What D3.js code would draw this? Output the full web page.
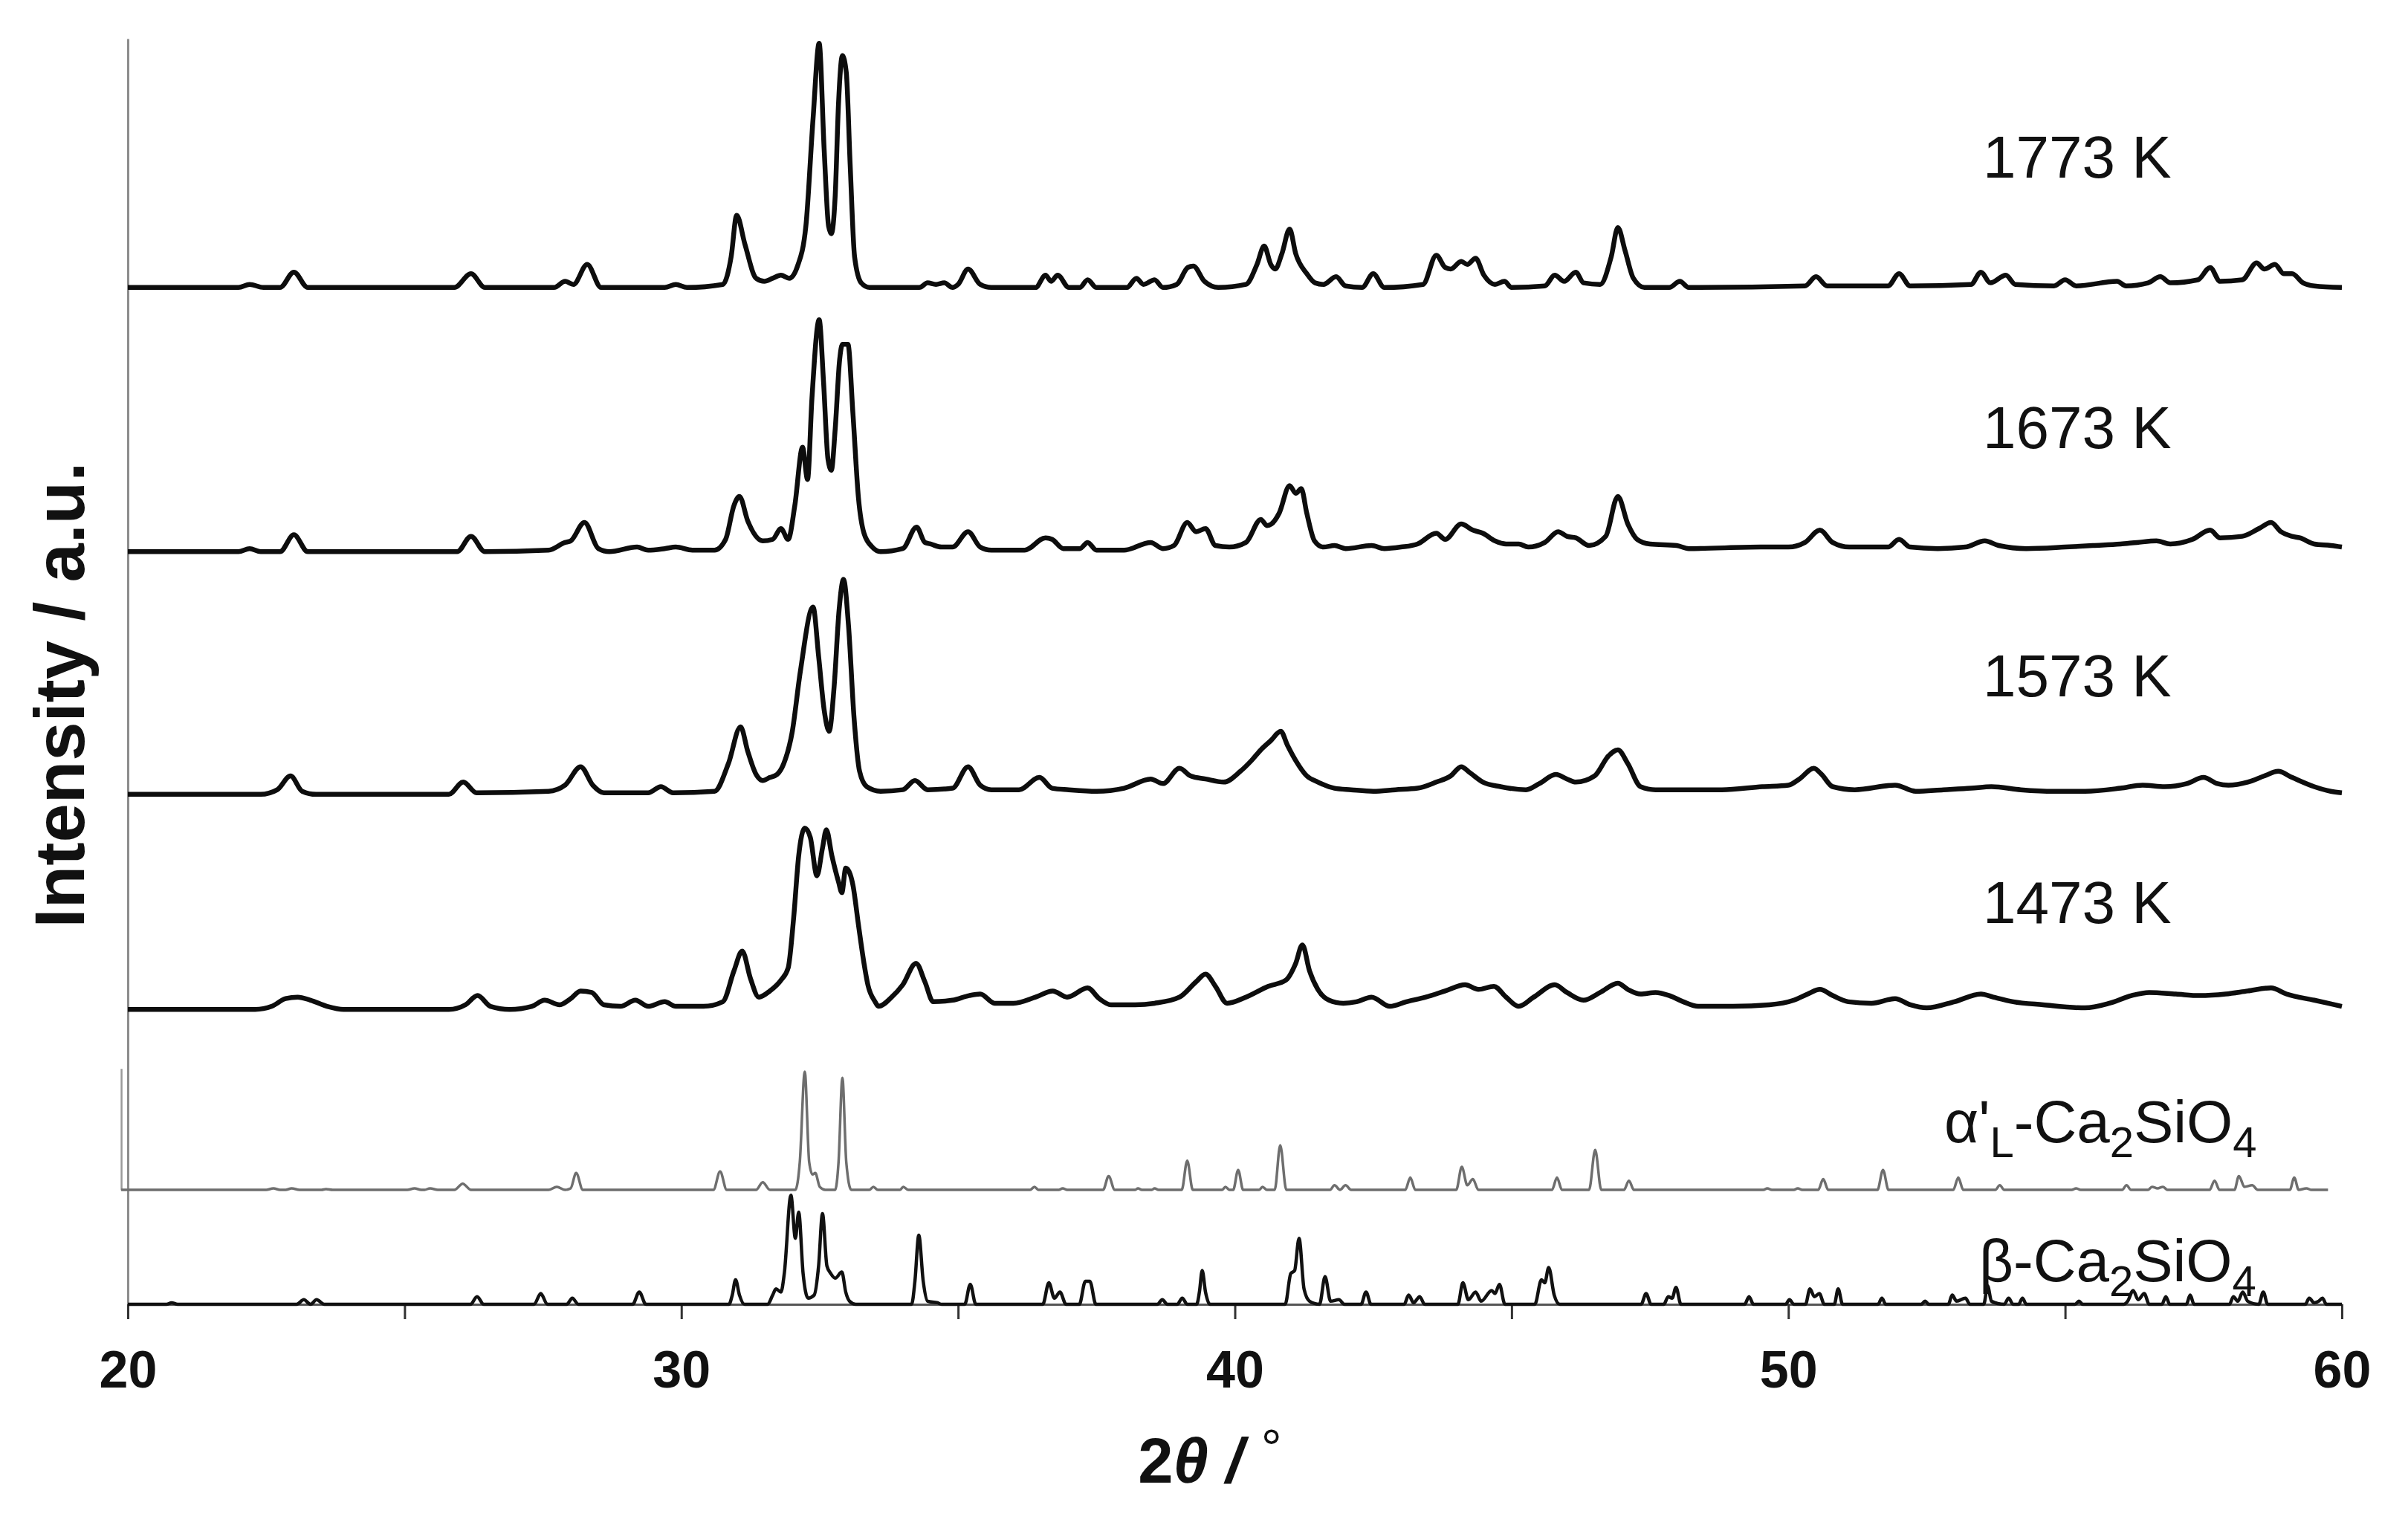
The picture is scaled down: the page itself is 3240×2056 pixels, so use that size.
<!DOCTYPE html>
<html>
<head>
<meta charset="utf-8">
<script src="https://cdn.jsdelivr.net/npm/d3@7"></script>
<style>
  html, body { margin: 0; padding: 0; background: #fff; }
  svg { display: block; font-family: "Liberation Sans", Arial, sans-serif; }
</style>
</head>
<body>
<svg id="xrd" width="3240" height="2056"></svg>
<script>
// sample names and vertical stacking offsets (intensity units)
const sampleNames = ["1773 K", "1673 K", "1573 K", "1473 K"];
const sampleOffsets = [662, 490, 332, 192];
const alphaOffset = 74.5;
const betaOffset = 0;
const xTicks = [20, 25, 30, 35, 40, 45, 50, 55, 60];

// [2theta, intensity]
const xrd1773 = [
  [20,0],[22.0,0],[22.2,2],[22.45,0],[22.75,0],[23.0,10],[23.25,0],
  [25.9,0],[26.2,9],[26.45,0],[27.7,0],[27.9,4],[28.05,2],[28.3,15],[28.55,0],
  [29.7,0],[29.9,2],[30.1,0],[30.75,2],[30.9,20],[31.0,47],[31.15,28],[31.35,6],[31.5,4],[31.65,6],[31.8,8],[31.95,6],
  [32.1,14],[32.25,40],[32.38,110],[32.49,159],[32.58,90],[32.66,40],[32.71,35],[32.78,60],[32.84,120],[32.91,151],[32.98,140],[33.05,80],[33.13,20],[33.25,3],[33.4,0],
  [34.3,0],[34.45,3],[34.6,2],[34.75,3],[34.9,0],[35.0,2],[35.18,12],[35.4,2],[35.6,0],
  [36.4,0],[36.58,8],[36.68,4],[36.8,8],[37.0,0],[37.2,0],[37.34,5],[37.5,0],
  [38.05,0],[38.22,6],[38.35,2],[38.55,5],[38.7,0],[38.95,2],[39.15,13],[39.25,14],[39.45,4],[39.7,0],
  [40.2,2],[40.4,15],[40.53,27],[40.65,15],[40.73,12],[40.85,22],[40.99,38],[41.1,22],[41.3,9],[41.45,3],[41.6,2],[41.83,7],[42.0,1],
  [42.3,0],[42.5,9],[42.7,0],[43.4,2],[43.64,21],[43.8,13],[43.9,12],[44.09,17],[44.2,15],[44.35,19],[44.5,8],[44.7,2],[44.87,4],[45.0,0],
  [45.6,1],[45.78,8],[45.95,4],[46.16,10],[46.3,3],[46.6,2],[46.8,20],[46.92,39],[47.05,24],[47.2,6],[47.4,0],
  [47.85,0],[48.04,4],[48.2,0],[50.3,1],[50.5,7],[50.7,1],[51.8,1],[52.0,9],[52.2,1],
  [53.3,2],[53.48,10],[53.65,3],[53.93,8],[54.1,2],[54.8,1],[55.0,5],[55.2,1],
  [55.94,4],[56.1,1],[56.5,3],[56.72,7],[56.9,3],[57.4,5],[57.62,13],[57.8,4],[58.2,5],[58.46,16],[58.6,12],[58.79,15],[58.95,9],[59.1,9],[59.3,3],[59.5,1],[60,0]
];

const xrd1673 = [
  [20,0],[22.0,0],[22.2,2],[22.4,0],[22.75,0],[23.0,11],[23.25,0],
  [25.95,0],[26.2,10],[26.45,0],[27.6,1],[27.9,6],[28.0,7],[28.25,19],[28.5,2],[28.7,0],
  [29.2,3],[29.4,1],[29.7,2],[29.9,3],[30.2,1],[30.6,1],
  [30.8,8],[30.95,30],[31.05,36],[31.2,20],[31.47,7],[31.65,8],[31.8,15],[31.93,8],
  [32.05,30],[32.19,68],[32.28,47],[32.36,100],[32.49,151],[32.57,110],[32.65,60],[32.71,53],[32.78,80],[32.86,125],[32.91,135],[33.01,135],[33.1,90],[33.2,35],[33.3,12],[33.45,3],[33.6,0],
  [34.0,2],[34.25,16],[34.4,6],[34.5,5],[34.7,3],[34.9,3],[35.18,13],[35.4,3],[35.6,1],
  [36.2,1],[36.58,9],[36.7,8],[36.9,2],[37.2,2],[37.34,6],[37.5,1],
  [38.0,1],[38.48,6],[38.7,2],[38.9,4],[39.14,19],[39.3,13],[39.47,15],[39.65,4],[39.9,3],
  [40.2,6],[40.47,21],[40.58,17],[40.66,18],[40.8,25],[40.99,43],[41.1,38],[41.2,41],[41.3,25],[41.44,7],[41.6,3],[41.8,4],[42.0,2],
  [42.47,4],[42.7,2],[43.0,3],[43.3,5],[43.64,12],[43.8,8],[44.09,18],[44.3,14],[44.48,12],[44.7,7],[44.9,5],[45.13,5],[45.3,3],
  [45.6,6],[45.84,13],[46.0,10],[46.16,9],[46.4,4],[46.7,10],[46.92,36],[47.1,18],[47.27,8],[47.5,5],[47.98,4],[48.2,2],
  [49.5,3],[50.0,3],[50.3,6],[50.57,14],[50.8,6],[51.1,3],
  [51.8,3],[52.0,8],[52.2,3],[52.7,2],[53.2,3],[53.55,7],[53.8,4],[54.3,2],[55.0,3],[55.5,4],[56.0,5],[56.3,6],[56.65,7],[56.9,5],
  [57.3,8],[57.62,14],[57.8,9],[58.2,10],[58.5,15],[58.72,19],[58.9,13],[59.1,10],[59.24,9],[59.5,5],[59.8,4],[60,3]
];

const xrd1573 = [
  [20,0],[22.4,0],[22.7,3],[22.94,12],[23.15,2],[23.4,0],
  [25.8,0],[26.06,8],[26.3,1],[27.6,2],[27.9,6],[28.18,18],[28.4,6],[28.6,1],
  [29.4,1],[29.63,5],[29.85,1],
  [30.6,2],[30.85,20],[31.07,44],[31.2,28],[31.35,13],[31.47,9],[31.6,11],[31.73,13],[31.85,20],
  [32.0,40],[32.15,80],[32.38,122],[32.48,90],[32.58,55],[32.67,41],[32.76,70],[32.85,120],[32.93,140],[33.02,110],[33.12,50],[33.22,15],[33.35,5],[33.6,2],
  [34.0,3],[34.22,9],[34.45,3],[34.9,4],[35.18,18],[35.4,6],[35.6,3],
  [36.1,3],[36.47,11],[36.7,4],[37.0,3],[37.5,2],[38.0,4],[38.48,10],[38.7,7],[39.0,17],[39.2,12],[39.47,10],[39.8,8],
  [40.1,15],[40.3,22],[40.47,29],[40.65,35],[40.83,41],[40.95,32],[41.1,22],[41.3,12],[41.5,8],[41.8,4],[42.1,3],[42.5,2],[42.9,3],[43.3,4],
  [43.64,8],[43.9,12],[44.09,18],[44.25,14],[44.48,8],[44.8,5],[45.26,3],[45.5,7],[45.8,13],[46.0,10],[46.16,8],
  [46.5,12],[46.75,25],[46.92,29],[47.1,20],[47.33,5],[47.6,3],[48.2,3],[48.8,3],[49.53,5],[50.0,6],[50.2,10],[50.46,17],[50.6,13],[50.8,5],[51.2,3],
  [51.93,6],[52.3,2],[52.8,3],[53.3,4],[53.67,5],[54.2,3],[54.8,2],[55.36,2],[56.0,4],[56.4,6],[56.8,5],[57.2,7],[57.5,11],[57.75,7],[57.95,6],
  [58.3,8],[58.6,12],[58.85,15],[59.1,11],[59.5,5],[59.8,2],[60,1]
];

const xrd1473 = [
  [20,0],[22.3,0],[22.6,2],[22.85,7],[23.07,8],[23.3,6],[23.6,2],[23.9,0],
  [25.8,0],[26.1,3],[26.32,9],[26.55,2],[26.9,0],
  [27.3,2],[27.53,6],[27.8,3],[28.0,7],[28.18,12],[28.38,11],[28.6,3],[28.9,2],[29.17,6],[29.4,2],[29.7,5],[29.9,2],[30.4,2],
  [30.75,5],[30.95,25],[31.1,38],[31.25,20],[31.4,8],[31.6,12],[31.8,19],[31.93,27],[32.03,60],[32.12,100],[32.23,118],[32.33,112],[32.45,87],[32.55,105],[32.62,117],[32.72,100],[32.84,83],[32.9,76],[32.97,92],[33.05,88],[33.1,81],[33.2,55],[33.3,30],[33.37,16],[33.5,5],[33.56,2],
  [33.8,8],[34.0,16],[34.24,30],[34.4,18],[34.55,5],[34.9,6],[35.2,9],[35.4,10],[35.66,4],
  [36.0,4],[36.4,8],[36.71,12],[36.97,8],[37.34,14],[37.55,7],[37.76,3],[38.2,3],[38.55,4],[39.0,8],[39.3,18],[39.47,23],[39.65,15],[39.86,4],
  [40.2,8],[40.6,15],[40.92,19],[41.1,30],[41.22,42],[41.35,25],[41.5,13],[41.7,6],[41.96,4],[42.2,5],[42.47,8],[42.8,2],
  [43.1,5],[43.45,8],[43.8,12],[44.16,16],[44.4,13],[44.68,15],[44.9,8],[45.13,2],[45.4,8],[45.78,16],[46.0,11],[46.3,6],[46.6,11],[46.92,17],[47.1,13],[47.33,10],[47.6,11],[47.85,9],[48.1,5],[48.37,2],
  [49.0,2],[49.66,3],[50.1,6],[50.35,10],[50.57,13],[50.8,9],[51.08,5],[51.5,4],[51.93,7],[52.2,3],[52.5,1],
  [53.0,5],[53.48,10],[53.7,8],[54.06,5],[54.6,3],[55.36,1],[55.8,4],[56.2,9],[56.52,11],[57.0,10],[57.43,9],[57.9,10],[58.3,12],[58.72,14],[59.0,10],[59.5,6],[60,2]
];

// reference pattern alpha'L-Ca2SiO4 (grey)
const xrdAlpha = [
  [19.88,0],[22.5,0],[22.63,1],[22.75,0],[22.85,0],[22.96,1],[23.1,0],[23.5,0],[23.58,0.5],[23.7,0],
  [25.05,0],[25.18,1],[25.3,0],[25.36,0],[25.46,1],[25.6,0],[25.9,0],[26.05,4],[26.2,0],
  [27.6,0],[27.75,2],[27.9,0],[28.0,1],[28.1,11],[28.22,0],[30.58,0],[30.7,12],[30.82,0],[31.35,0],[31.47,5],[31.6,0],
  [32.06,0],[32.14,18],[32.23,77],[32.31,18],[32.37,10],[32.42,11],[32.5,2],[32.6,0],
  [32.78,0],[32.84,18],[32.91,73],[32.98,18],[33.07,0],
  [33.4,0],[33.47,2],[33.55,0],[33.95,0],[34.01,2],[34.1,0],[36.3,0],[36.38,2],[36.45,0],[36.82,0],[36.89,1],[36.97,0],
  [37.62,0],[37.72,9],[37.83,0],[38.2,0],[38.25,1],[38.32,0],[38.5,0],[38.55,1],[38.62,0],
  [39.04,0],[39.14,19],[39.24,0],[39.77,0],[39.83,2],[39.9,0],[39.97,0],[40.06,13],[40.15,0],
  [40.44,0],[40.5,2],[40.58,0],[40.72,0],[40.82,29],[40.93,0],
  [41.72,0],[41.8,3],[41.9,0],[42.0,3],[42.1,0],[43.08,0],[43.17,8],[43.26,0],
  [44.0,0],[44.1,15],[44.2,3],[44.3,7],[44.4,0],[45.73,0],[45.82,8],[45.91,0],
  [46.4,0],[46.51,26],[46.62,0],[47.03,0],[47.12,6],[47.21,0],
  [49.55,0],[49.62,1],[49.7,0],[50.1,0],[50.17,1],[50.25,0],[50.54,0],[50.63,7],[50.72,0],
  [51.61,0],[51.71,13],[51.81,0],[52.98,0],[53.07,8],[53.16,0],[53.74,0],[53.82,3],[53.9,0],
  [55.12,0],[55.2,1],[55.28,0],[56.03,0],[56.11,3],[56.19,0],[56.5,0],[56.57,2],[56.67,1],[56.77,2],[56.85,0],
  [57.61,0],[57.7,6],[57.79,0],[58.06,0],[58.14,9],[58.24,2],[58.38,3],[58.48,0],
  [59.06,0],[59.14,8],[59.22,0],[59.36,1],[59.45,0],[59.75,0]
];

// reference pattern beta-Ca2SiO4 (black)
const xrdBeta = [
  [20,0],[20.7,0],[20.79,1],[20.9,0],[23.05,0],[23.18,3],[23.3,0],[23.41,3],[23.55,0],
  [26.19,0],[26.31,5],[26.43,0],[27.34,0],[27.46,7],[27.58,0],[27.93,0],[28.03,4],[28.14,0],
  [29.12,0],[29.24,8],[29.36,0],[30.86,0],[30.92,6],[30.98,16],[31.05,6],[31.14,0],
  [31.56,0],[31.65,6],[31.71,10],[31.8,8],[31.86,20],[31.98,71],[32.06,43],[32.12,60],[32.2,20],[32.29,4],[32.4,6],[32.48,25],[32.55,59],[32.63,25],[32.7,20],[32.78,17],[32.9,21],[32.97,8],[33.04,2],[33.15,0],
  [34.16,0],[34.22,15],[34.29,45],[34.37,15],[34.45,2],[34.63,1],[34.7,0],[35.12,0],[35.22,13],[35.32,0],
  [36.53,0],[36.64,14],[36.74,4],[36.84,8],[36.95,0],[37.19,0],[37.3,15],[37.38,15],[37.49,0],
  [38.6,0],[38.69,3],[38.78,0],[38.96,0],[39.05,4],[39.14,0],[39.31,0],[39.36,8],[39.41,22],[39.47,8],[39.55,0],
  [40.91,0],[41.01,20],[41.08,22],[41.16,43],[41.25,10],[41.35,2],[41.53,0],[41.63,18],[41.73,2],[41.88,3],[41.98,0],
  [42.28,0],[42.37,8],[42.46,0],[43.06,0],[43.14,6],[43.23,1],[43.34,5],[43.43,0],
  [44.03,0],[44.12,14],[44.22,3],[44.35,8],[44.45,2],[44.64,9],[44.7,7],[44.78,13],[44.88,0],
  [45.42,0],[45.54,16],[45.6,14],[45.67,24],[45.77,6],[45.87,0],
  [47.34,0],[47.43,7],[47.52,0],[47.75,0],[47.83,5],[47.9,4],[47.97,11],[48.06,0],
  [49.21,0],[49.29,5],[49.37,0],[49.95,0],[50.02,3],[50.1,0],[50.31,0],[50.39,10],[50.47,5],[50.56,7],[50.65,0],[50.83,0],[50.9,10],[50.98,0],
  [51.62,0],[51.69,4],[51.76,0],[52.4,0],[52.47,2],[52.54,0],
  [52.89,0],[52.96,6],[53.04,2],[53.2,4],[53.28,0],[53.53,0],[53.6,12],[53.67,2],[53.9,0],[53.98,4],[54.06,0],[54.16,0],[54.23,4],[54.3,0],
  [55.18,0],[55.25,2],[55.32,0],[56.06,0],[56.13,2],[56.23,9],[56.32,3],[56.43,7],[56.52,0],
  [56.75,0],[56.82,5],[56.89,0],[57.19,0],[57.26,6],[57.33,0],
  [57.97,0],[58.04,5],[58.12,2],[58.21,8],[58.3,2],[58.5,0],[58.58,8],[58.66,0],
  [59.34,0],[59.41,4],[59.5,1],[59.58,2],[59.65,4],[59.72,0],[60,0]
];

const samples = [xrd1773, xrd1673, xrd1573, xrd1473];

let svg = d3.select("#xrd");
svg.append("rect").attr("width", 3240).attr("height", 2056).attr("fill", "#fff");

let x = d3.scaleLinear().domain([20, 60]).range([172, 3151]);
let y = d3.scaleLinear().domain([0, 824]).range([1755, 52]);

function lineAt(offset) {
  return d3.line()
    .x((d) => x(d[0]))
    .y((d) => y(d[1] + offset))
    .curve(d3.curveMonotoneX);
}

// left axis (no ticks)
let yAxis = svg.append("g")
  .attr("transform", "translate(" + x(20) + ",0)")
  .call(d3.axisLeft(y).tickValues([]).tickSizeOuter(0));
yAxis.select(".domain").attr("stroke", "#8c8c8c").attr("stroke-width", 3);

// small axis of the alpha' reference pattern
let yAlpha = d3.scaleLinear().domain([0, 79]).range([y(alphaOffset), y(alphaOffset + 79)]);
let alphaAxis = svg.append("g")
  .attr("transform", "translate(" + x(19.88) + ",0)")
  .call(d3.axisLeft(yAlpha).tickValues([]).tickSizeOuter(0));
alphaAxis.select(".domain").attr("stroke", "#9a9a9a").attr("stroke-width", 2.5);

// x axis
let xAxis = svg.append("g")
  .attr("transform", "translate(0," + y(0) + ")")
  .call(d3.axisBottom(x)
    .tickValues(xTicks)
    .tickSize(20)
    .tickSizeOuter(0)
    .tickPadding(42)
    .tickFormat((d) => (d % 10 === 0 ? d : "")));
xAxis.select(".domain").attr("stroke", "#555").attr("stroke-width", 3);
xAxis.selectAll(".tick line").attr("stroke", "#333").attr("stroke-width", 3);
xAxis.selectAll(".tick text")
  .attr("fill", "#111")
  .attr("font-size", 70)
  .attr("font-weight", "bold")
  .attr("font-family", "'Liberation Sans', Arial, sans-serif");

// reference patterns
svg.append("path")
  .datum(xrdAlpha)
  .attr("fill", "none")
  .attr("stroke", "#6e6e6e")
  .attr("stroke-width", 3.5)
  .attr("stroke-linejoin", "round")
  .attr("d", lineAt(alphaOffset));

svg.append("path")
  .datum(xrdBeta)
  .attr("fill", "none")
  .attr("stroke", "#111")
  .attr("stroke-width", 4.5)
  .attr("stroke-linejoin", "round")
  .attr("d", lineAt(betaOffset));

// measured patterns
samples.forEach(function (data, i) {
  svg.append("path")
    .datum(data)
    .attr("fill", "none")
    .attr("stroke", "#0d0d0d")
    .attr("stroke-width", 6.5)
    .attr("stroke-linejoin", "round")
    .attr("d", lineAt(sampleOffsets[i]));
});

// sample labels
let labelY = [239, 603, 937, 1242];
sampleNames.forEach(function (name, i) {
  svg.append("text")
    .attr("x", 2668)
    .attr("y", labelY[i])
    .attr("font-size", 80)
    .attr("fill", "#111")
    .text(name);
});

// alpha'L-Ca2SiO4 label
let alphaLabel = svg.append("text")
  .attr("x", 2616)
  .attr("y", 1537)
  .attr("font-size", 80)
  .attr("fill", "#111");
alphaLabel.append("tspan").text("α'");
alphaLabel.append("tspan").attr("font-size", 58).attr("dy", 20).text("L");
alphaLabel.append("tspan").attr("dy", -20).text("-Ca");
alphaLabel.append("tspan").attr("font-size", 58).attr("dy", 20).text("2");
alphaLabel.append("tspan").attr("dy", -20).text("SiO");
alphaLabel.append("tspan").attr("font-size", 58).attr("dy", 20).text("4");

// beta-Ca2SiO4 label
let betaLabel = svg.append("text")
  .attr("x", 2663)
  .attr("y", 1724)
  .attr("font-size", 80)
  .attr("fill", "#111");
betaLabel.append("tspan").text("β-Ca");
betaLabel.append("tspan").attr("font-size", 58).attr("dy", 20).text("2");
betaLabel.append("tspan").attr("dy", -20).text("SiO");
betaLabel.append("tspan").attr("font-size", 58).attr("dy", 20).text("4");

// axis titles
svg.append("text")
  .attr("transform", "translate(113,935) rotate(-90)")
  .attr("text-anchor", "middle")
  .attr("font-size", 94)
  .attr("font-weight", "bold")
  .attr("fill", "#111")
  .text("Intensity / a.u.");

let xTitle = svg.append("text")
  .attr("x", 1628)
  .attr("y", 1995)
  .attr("text-anchor", "middle")
  .attr("font-size", 85)
  .attr("font-weight", "bold")
  .attr("fill", "#111");
xTitle.append("tspan").text("2");
xTitle.append("tspan").attr("font-style", "italic").text("θ / ");
xTitle.append("tspan").attr("font-weight", "normal").attr("font-size", 70).attr("dy", -22).text("°");
</script>
</body>
</html>
